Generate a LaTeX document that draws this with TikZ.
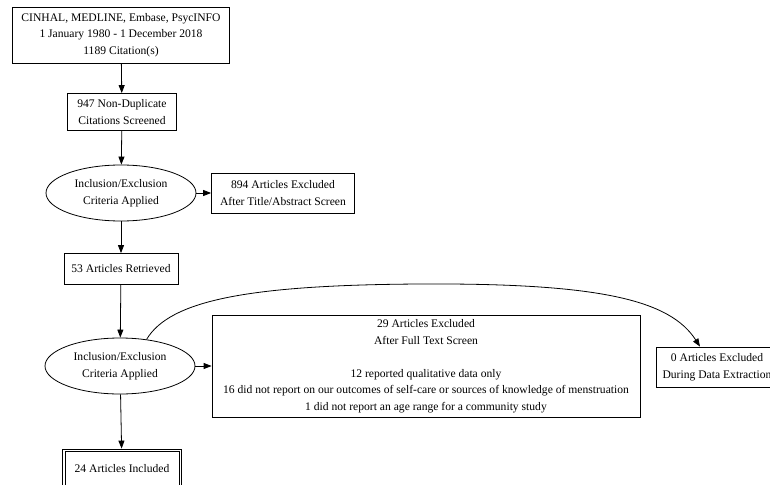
\documentclass[tikz,border=0pt]{standalone}
\usepackage{fontspec}
\setmainfont{Liberation Serif}
\usetikzlibrary{shapes.geometric,arrows.meta}

\begin{document}
\begin{tikzpicture}[x=1pt, y=-1pt,
    box/.style={draw, line width=0.8pt, rectangle, align=center, inner sep=2pt,
        font=\fontsize{11.6}{16.5}\selectfont},
    crit/.style={draw, line width=0.8pt, ellipse, align=center, inner sep=0pt,
        minimum width=150pt, minimum height=56pt, font=\fontsize{11.6}{16.5}\selectfont},
    flow/.style={-{Triangle[length=8pt, width=6pt]}, line width=0.8pt}]
        % frame
        \useasboundingbox (0,0) rectangle (770,484);

        % main column
        \node[box, minimum width=217pt, minimum height=56pt] (search) at (121,35)
            {CINHAL, MEDLINE, Embase, PsycINFO\\1 January 1980 - 1 December 2018\\1189 Citation(s)};
        \node[box, minimum width=109pt, minimum height=37pt] (screened) at (122,112)
            {947 Non-Duplicate\\Citations Screened};
        \node[crit] (crit1) at (121,193) {Inclusion/Exclusion\\Criteria Applied};
        \node[box, minimum width=114pt, minimum height=31pt] (retrieved) at (121,269)
            {53 Articles Retrieved};
        \node[crit] (crit2) at (120,366) {Inclusion/Exclusion\\Criteria Applied};
        \node[box, minimum width=119pt, minimum height=40pt] (included) at (122,469)
            {24 Articles Included};
        \draw[line width=0.8pt] ([xshift=3pt, yshift=-3pt]included.north west)
            rectangle ([xshift=-3pt, yshift=3pt]included.south east);

        % excluded boxes
        \node[box, minimum width=143pt, minimum height=40pt] (excl1) at (283,193)
            {894 Articles Excluded\\After Title/Abstract Screen};
        \node[box, minimum width=428pt, minimum height=102pt] (excl2) at (426,366)
            {29 Articles Excluded\\After Full Text Screen\\~\\12 reported qualitative data only\\
            16 did not report on our outcomes of self-care or sources of knowledge of menstruation\\
            1 did not report an age range for a community study};
        \node[box, minimum width=122pt, minimum height=40pt] (excl3) at (717,367)
            {0 Articles Excluded\\During Data Extraction};
        \coordinate (excl3in) at ([xshift=-17pt]excl3.north);

        % arrows
        \draw[flow] (search) -- (screened);
        \draw[flow] (screened) -- (crit1);
        \draw[flow] (crit1) -- (excl1);
        \draw[flow] (crit1) -- (retrieved);
        \draw[flow] (retrieved) -- (crit2);
        \draw[flow] (crit2) -- (excl2);
        \draw[flow] (crit2) -- (included);
        \draw[flow] (crit2.45) .. controls (170,300) and (250,285) .. (420,284)
            .. controls (600,283) and (670,300) .. (excl3in);
    \end{tikzpicture}
\end{document}
